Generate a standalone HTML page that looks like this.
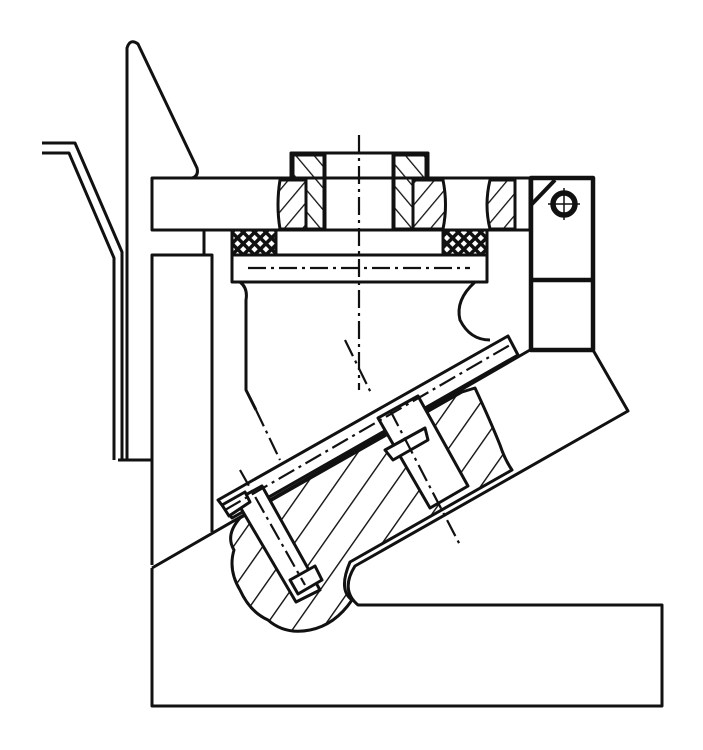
<!DOCTYPE html>
<html><head><style>html,body{margin:0;padding:0;background:#fff}svg{display:block}</style></head><body>
<svg width="703" height="750" viewBox="0 0 703 750" xmlns="http://www.w3.org/2000/svg">
<defs>
<pattern id="h1" width="14" height="14" patternUnits="userSpaceOnUse" patternTransform="rotate(40)"><line x1="0" y1="0" x2="0" y2="14" stroke="#111" stroke-width="2.6"/></pattern>
<pattern id="h2" width="14" height="14" patternUnits="userSpaceOnUse" patternTransform="rotate(-40)"><line x1="0" y1="0" x2="0" y2="14" stroke="#111" stroke-width="2.6"/></pattern>
<pattern id="h3" width="24" height="24" patternUnits="userSpaceOnUse" patternTransform="rotate(35)"><line x1="0" y1="0" x2="0" y2="24" stroke="#111" stroke-width="2.8"/></pattern>
<pattern id="x" width="8" height="8" patternUnits="userSpaceOnUse" patternTransform="rotate(45)"><rect width="8" height="8" fill="#111"/><rect x="2" y="2" width="4.5" height="4.5" fill="#fff"/></pattern>
</defs>
<g fill="none" stroke="#111" stroke-width="3" stroke-linejoin="round">
<path d="M42,143 L75,143 L122,252 L122,460"/>
<path d="M42,153 L69,153 L114,258 L114,460"/>
<path d="M118,460 L152,460 M127,460 L127,48 Q130,38 138,44 L197,168 Q199,176 192,178"/>
<rect x="152" y="178" width="378" height="52"/>
<rect x="291" y="153" width="137" height="25"/>
<line x1="325" y1="153" x2="325" y2="230"/><line x1="393" y1="153" x2="393" y2="230"/>
<path d="M280,180 L306,180 L306,229 L280,229 Q276,205 280,180Z" fill="url(#h1)"/>
<path d="M293,155 L324,155 L324,229 L306,229 L306,180 L293,180Z" fill="url(#h2)"/>
<path d="M394,155 L426,155 L426,180 L413,180 L413,229 L394,229Z" fill="url(#h2)"/>
<path d="M413,180 L443,180 Q448,205 443,229 L413,229Z" fill="url(#h1)"/>
<path d="M490,180 L515,180 L515,229 L490,229 Q484,205 490,180Z" fill="url(#h1)"/>
<rect x="232" y="230" width="44" height="25" fill="url(#x)"/>
<rect x="443" y="230" width="44" height="25" fill="url(#x)"/>
<line x1="276" y1="230" x2="443" y2="230"/>
<rect x="232" y="255" width="255" height="27"/>
<line x1="204" y1="230" x2="204" y2="255"/>
<path d="M152,565 L152,255 L212,255 L212,532"/>
<path d="M240,282 Q248,288 246,300 L246,390 L256,410"/>
<path d="M475,282 Q455,300 460,320 Q470,340 490,340" />
<rect x="531" y="178" width="62" height="172" stroke-width="4.5"/>
<line x1="531" y1="280" x2="593" y2="280" stroke-width="4.5"/>
<path d="M531,230 L531,205 L555,180" stroke-width="4"/>
<circle cx="564" cy="204" r="11" stroke-width="5.5"/>
<line x1="548" y1="204" x2="580" y2="204" stroke-width="1.5"/><line x1="564" y1="188" x2="564" y2="220" stroke-width="1.5"/>
<path d="M218,500 L508,336 L518,355 L232,518 Z"/>
<path d="M152,568 L530,350 M593,350 L628,411 L355,566 Q340,590 358,605 L662,605 L662,706 L152,706 L152,568"/>
<path d="M240,518 L462,392 L475,388 Q490,420 500,445 Q505,460 512,470 L350,562 Q338,590 352,600 Q335,625 310,630 Q285,635 268,620 Q250,612 240,590 Q228,570 234,550 Q225,535 240,518Z" fill="url(#h3)"/>
<path d="M236,500 L262,486 L320,590 L296,602 Z" fill="#fff"/>
<path d="M222,505 L245,492 L250,502 L229,516Z" fill="#fff"/>
<path d="M378,418 L418,396 L468,486 L430,508 Z" fill="#fff"/>
<path d="M385,450 L425,428 L428,440 L393,460Z" fill="#fff"/>
<path d="M290,580 L315,566 L322,580 L298,594Z" fill="#fff"/>
</g>
<g fill="none" stroke="#111" stroke-width="2.2" stroke-dasharray="18,5,3,5">
<line x1="359" y1="135" x2="359" y2="390"/>
<line x1="248" y1="268" x2="470" y2="268"/>
<line x1="225" y1="510" x2="510" y2="345"/>
<line x1="256" y1="410" x2="280" y2="460"/>
<line x1="240" y1="470" x2="305" y2="585"/>
<line x1="390" y1="410" x2="460" y2="545"/>
<line x1="345" y1="340" x2="372" y2="395"/>
</g>
</svg>
</body></html>
